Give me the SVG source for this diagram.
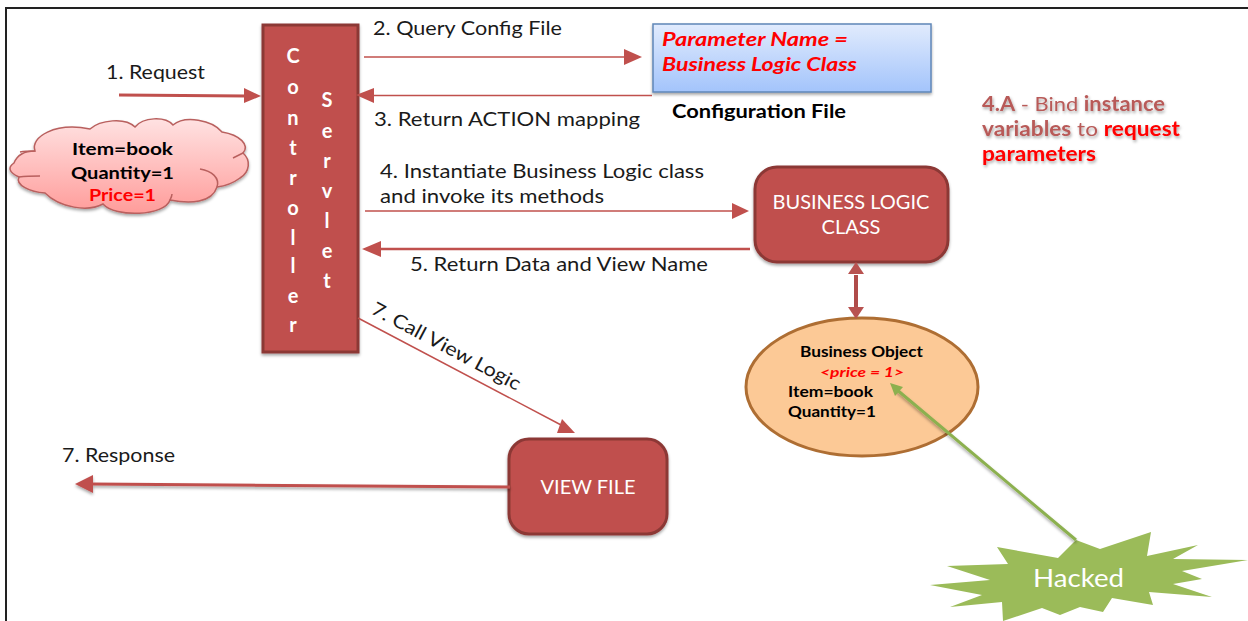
<svg xmlns="http://www.w3.org/2000/svg" width="1248" height="621" viewBox="0 0 1248 621">
<style>
text{font-family:Lato,"Liberation Sans",sans-serif}
.l{font-size:19px;fill:#1a1a1a}
.c{stroke:#c0504d;fill:none}
.box{fill:#c0504d;stroke:#8c3836;stroke-width:3}
.w{fill:#fff;font-size:20px;text-anchor:middle}
.v{fill:#fff;font-size:20px;font-weight:700;text-anchor:middle}
.b{font-weight:700;fill:#000}
.ha{font-weight:700;fill:#b85a58}
.re{font-weight:700;fill:#f00}
</style>
<defs>
<linearGradient id="bl" x1="0" y1="0" x2="0" y2="1"><stop offset="0" stop-color="#e1ebfd"/><stop offset="1" stop-color="#a3c4fb"/></linearGradient>
<linearGradient id="pk" x1="0" y1="0" x2="0" y2="1"><stop offset="0" stop-color="#ffe2e2"/><stop offset="1" stop-color="#ff9c9a"/></linearGradient>
<filter id="sh" x="-10%" y="-10%" width="120%" height="130%"><feDropShadow dx="0" dy="2" stdDeviation="1.5" flood-color="#000" flood-opacity=".35"/></filter>
<filter id="ts" x="-10%" y="-20%" width="120%" height="150%"><feDropShadow dx="1" dy="2" stdDeviation="1.5" flood-color="#000" flood-opacity=".35"/></filter>
</defs>
<rect width="1248" height="621" fill="#fff"/>
<path d="M6 621V8H1248" fill="none" stroke="#222" stroke-width="2"/>

<g id="controller-servlet">
<rect x="263" y="25" width="95" height="327" class="box" filter="url(#sh)"/>
<text class="v" x="293" y="63">C</text><text class="v" x="293" y="94">o</text><text class="v" x="293" y="125">n</text><text class="v" x="293" y="155">t</text><text class="v" x="293" y="185">r</text><text class="v" x="293" y="215">o</text><text class="v" x="293" y="245">l</text><text class="v" x="293" y="273">l</text><text class="v" x="293" y="303">e</text><text class="v" x="293" y="332">r</text>
<text class="v" x="327" y="107">S</text><text class="v" x="327" y="138">e</text><text class="v" x="327" y="168">r</text><text class="v" x="327" y="198">v</text><text class="v" x="327" y="228">l</text><text class="v" x="327" y="258">e</text><text class="v" x="327" y="288">t</text>
</g>

<g id="request-cloud">
<path d="M14 163C18 153 28 151 35 151C30 137 55 122 90 129C100 120 125 117 135 127C143 117 165 116 173 125C185 115 212 120 222 132C240 135 250 145 243 153C251 160 250 172 240 178C232 184 225 186 217 187C212 203 190 204 170 200C165 216 115 218 103 204C88 212 60 208 45 193C30 192 15 185 19 177C8 172 8 167 14 163Z" fill="url(#pk)" stroke="#b9605e" stroke-width="1.500" filter="url(#sh)"/>
<path d="M20 152C25 151 30 151 35 151M19 177C27 176 33 176 40 176M200 169C212 171 220 178 217 187M233 158L243 153M170 200C171 198 172 196 172 194" fill="none" stroke="#b9605e" stroke-width="1.500"/>
<text class="b" x="72" y="155" font-size="17" textLength="101" lengthAdjust="spacingAndGlyphs">Item=book</text>
<text class="b" x="71" y="179" font-size="17" textLength="103" lengthAdjust="spacingAndGlyphs">Quantity=1</text>
<text x="89" y="201" font-size="17" font-weight="700" fill="#f00" textLength="67" lengthAdjust="spacingAndGlyphs">Price=1</text>
</g>

<g id="config-file">
<rect x="653" y="24" width="278" height="68" fill="url(#bl)" stroke="#5f87b8" stroke-width="1.500" filter="url(#sh)"/>
<text x="662" y="46" font-size="19" font-weight="700" font-style="italic" fill="#f00" textLength="186" lengthAdjust="spacingAndGlyphs">Parameter Name =</text>
<text x="662" y="71" font-size="19" font-weight="700" font-style="italic" fill="#f00" textLength="195" lengthAdjust="spacingAndGlyphs">Business  Logic Class</text>
<text x="672" y="118" font-size="19" font-weight="700" fill="#000" textLength="174" lengthAdjust="spacingAndGlyphs">Configuration File</text>
</g>

<g id="business-logic">
<rect x="755" y="167" width="193" height="95" rx="22" class="box" filter="url(#sh)"/>
<text class="w" x="851" y="209">BUSINESS LOGIC</text><text class="w" x="851" y="234">CLASS</text>
</g>

<g id="view-file">
<rect x="509" y="439" width="158" height="95" rx="20" class="box" filter="url(#sh)"/>
<text class="w" x="588" y="494">VIEW FILE</text>
</g>

<g id="business-object">
<ellipse cx="862" cy="387" rx="116" ry="69" fill="#fcc996" stroke="#ae6e33" stroke-width="3"/>
<text class="b" x="800" y="357" font-size="15" textLength="123" lengthAdjust="spacingAndGlyphs">Business Object</text>
<text x="820" y="377" font-size="14" font-weight="700" font-style="italic" fill="#f00" textLength="84" lengthAdjust="spacingAndGlyphs">&lt;price = 1&gt;</text>
<text class="b" x="788" y="397" font-size="15" textLength="85" lengthAdjust="spacingAndGlyphs">Item=book</text>
<text class="b" x="788" y="417" font-size="15" textLength="88" lengthAdjust="spacingAndGlyphs">Quantity=1</text>
</g>

<g id="hacked">
<path d="M1076 540L1100 549L1151 532L1147 556L1198 545L1173 559L1248 560L1182 571L1202 579L1173 584L1212 597L1149 592L1153 605L1112 598L1103 612L1080 607L1060 615L1042 608L1003 621L1002 602L950 607L982 595L930 585L990 580L947 566L1008 564L997 547L1058 558Z" fill="#9bbb59"/>
<text x="1033" y="587" font-size="25" fill="#fff" textLength="91" lengthAdjust="spacingAndGlyphs">Hacked</text>
</g>

<g id="connectors">
<g id="c1"><path class="c" stroke-width="3" d="M119 95L246 96"/><path fill="#c0504d" d="M244 88L261 96L244 103Z"/></g>
<g id="c2"><path class="c" stroke-width="1.500" d="M364 57H626"/><path fill="#c0504d" d="M624 49L642 57L624 65Z"/></g>
<g id="c3"><path class="c" stroke-width="1.500" d="M652 95.500H372"/><path fill="#c0504d" d="M374 88L356 95L374 103Z"/></g>
<g id="c4"><path class="c" stroke-width="1.500" d="M365 211H733"/><path fill="#c0504d" d="M732 203L749 211L732 219Z"/></g>
<g id="c5"><path class="c" stroke-width="2.500" d="M750 249H378"/><path fill="#c0504d" d="M381 241L362 249L381 257Z"/></g>
<g id="c6"><path stroke="#b04c4a" stroke-width="4" fill="none" d="M856 275V308"/><path fill="#b85250" d="M848 274L856 262L864 274Z"/><path fill="#b85250" d="M848 307L856 319L864 307Z"/></g>
<g id="c7"><path class="c" stroke-width="1.500" d="M358 318L563 426"/><path fill="#c0504d" d="M562 419L557 433L575 433Z"/></g>
<g id="c8" filter="url(#sh)"><path class="c" stroke-width="3" d="M510 487L90 484"/><path fill="#c0504d" d="M93 475L75 484L93 493Z"/></g>
<g id="c9"><path d="M1076 540L896 389" stroke="#8cb04f" stroke-width="3" fill="none" filter="url(#sh)"/><path fill="#8cb04f" d="M890 383L903 387L895 396Z"/></g>
</g>

<g id="labels">
<text class="l" x="106" y="79" textLength="99" lengthAdjust="spacingAndGlyphs">1. Request</text>
<text class="l" x="373" y="35" textLength="189" lengthAdjust="spacingAndGlyphs">2. Query Config File</text>
<text class="l" x="374" y="126" textLength="266" lengthAdjust="spacingAndGlyphs">3. Return  ACTION mapping</text>
<text class="l" x="380" y="178" textLength="324" lengthAdjust="spacingAndGlyphs">4. Instantiate Business  Logic class</text>
<text class="l" x="380" y="203" textLength="224" lengthAdjust="spacingAndGlyphs">and invoke its methods</text>
<text class="l" x="410" y="271" textLength="298" lengthAdjust="spacingAndGlyphs">5. Return Data and View Name</text>
<text class="l" transform="translate(370 313) rotate(28)" textLength="166" lengthAdjust="spacingAndGlyphs">7. Call View Logic</text>
<text class="l" x="62" y="462" textLength="113" lengthAdjust="spacingAndGlyphs">7. Response</text>
<g filter="url(#ts)" font-size="20">
<text x="982" y="111" textLength="183" lengthAdjust="spacingAndGlyphs"><tspan class="ha">4.A</tspan><tspan fill="#b85a58"> - Bind </tspan><tspan class="ha">instance</tspan></text>
<text x="982" y="136" textLength="198" lengthAdjust="spacingAndGlyphs"><tspan class="ha">variables</tspan><tspan fill="#b85a58"> to </tspan><tspan class="re">request</tspan></text>
<text x="982" y="161" class="re" textLength="114" lengthAdjust="spacingAndGlyphs">parameters</text>
</g>
</g>
</svg>
